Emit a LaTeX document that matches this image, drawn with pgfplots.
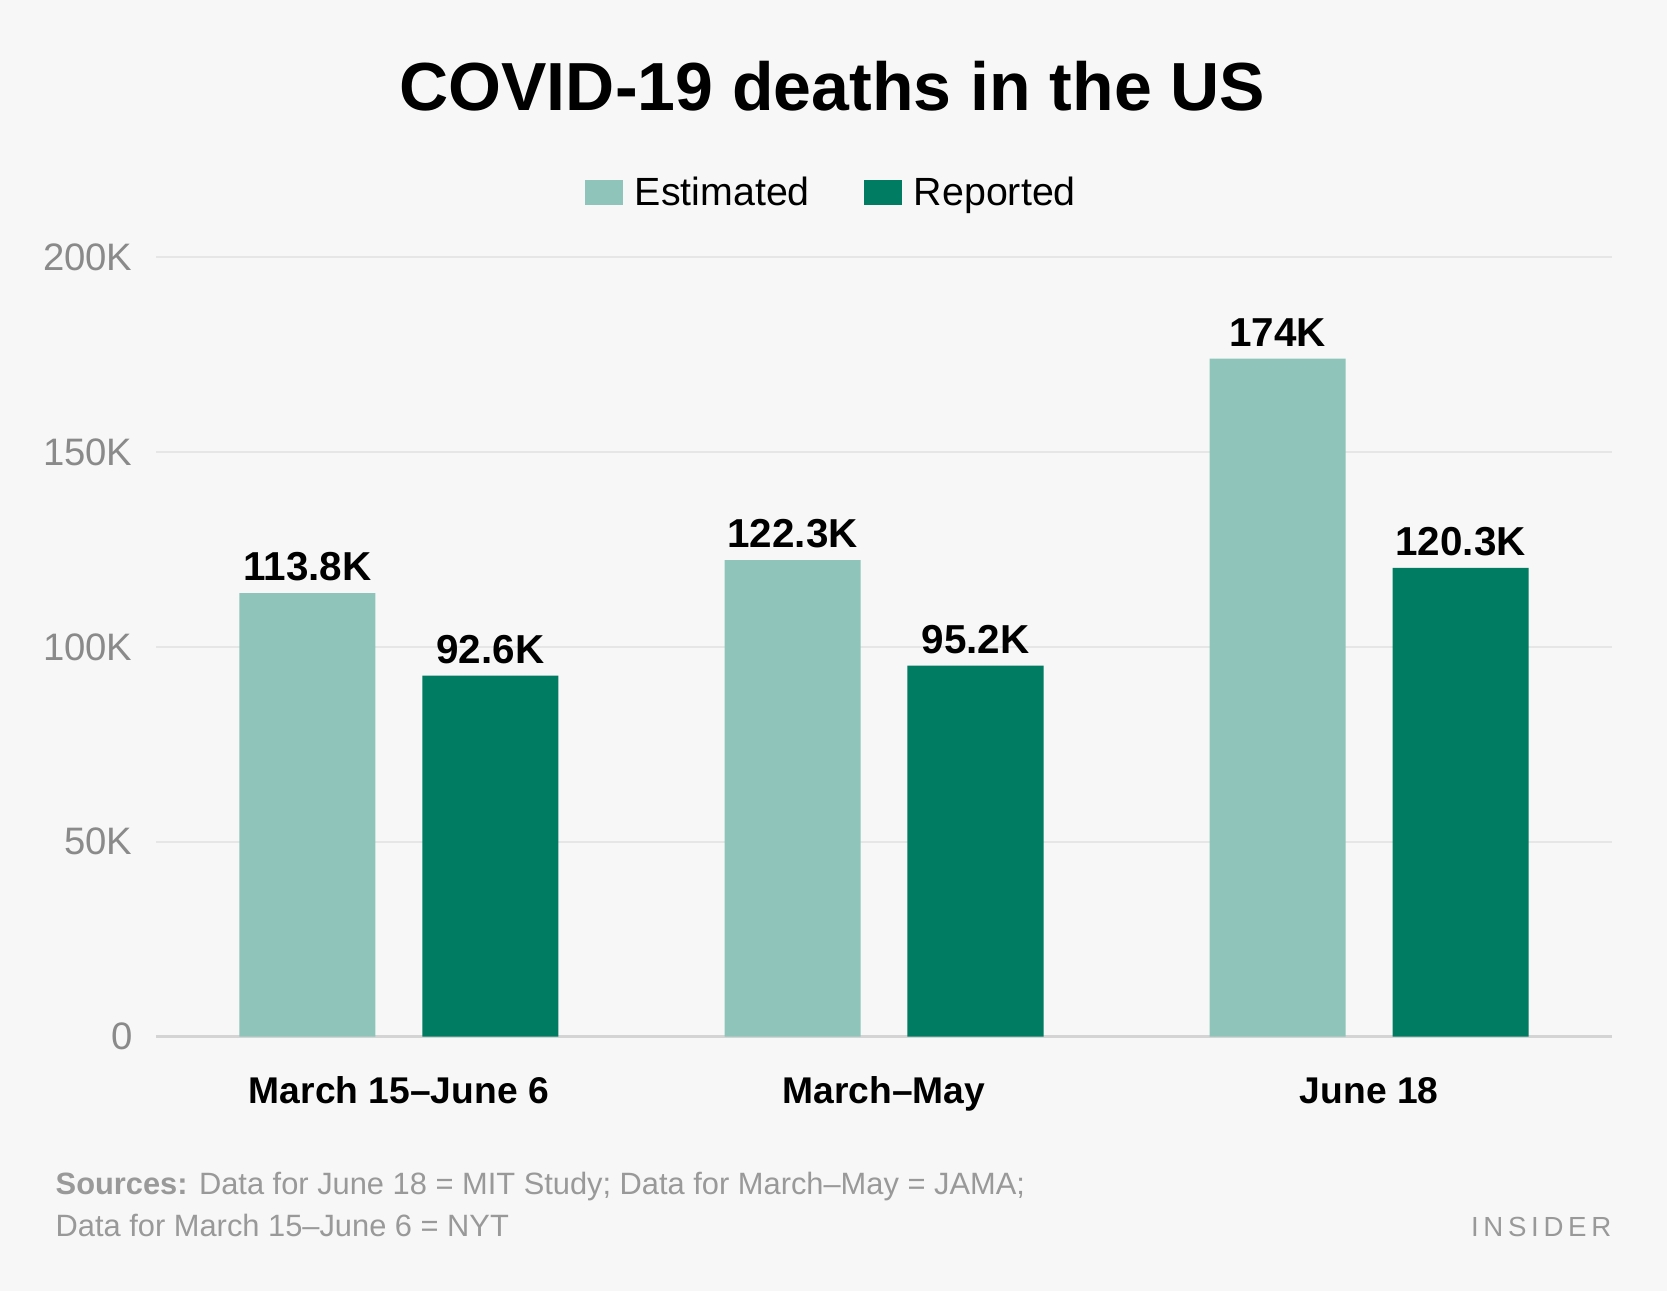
\documentclass[border=0pt]{standalone}
\usepackage{fontspec}
\setmainfont{Liberation Sans}
\usepackage{pgfplots}
\pgfplotsset{compat=1.18}
\definecolor{bgc}{HTML}{F7F7F7}
\definecolor{est}{HTML}{8EC4B9}
\definecolor{rep}{HTML}{007C63}
\definecolor{gridc}{HTML}{E6E6E6}
\definecolor{basec}{HTML}{D4D4D4}
\definecolor{tickc}{HTML}{8A8A8A}
\definecolor{srcc}{HTML}{999999}
\newcommand{\ls}{\hspace{2.2pt}}
\begin{document}
\begin{tikzpicture}
\fill[bgc] (0,0) rectangle (784pt,607pt);
\begin{axis}[
  at={(73.5pt,119.5pt)}, anchor=south west,
  scale only axis, width=684.5pt, height=366.5pt,
  xmin=-0.5, xmax=2.5, ymin=0, ymax=200000,
  ybar, bar width=0.2805,
  axis line style={draw=none},
  major tick length=0pt,
  xtick={0,1,2}, xticklabels={March 15–June 6, March–May, June 18},
  ytick={0,50000,100000,150000,200000}, yticklabels={0,50K,100K,150K,200K},
  scaled y ticks=false,
  ymajorgrids, grid style={draw=gridc, line width=1.1pt},
  extra y ticks={0}, extra y tick labels={},
  extra y tick style={grid style={draw=basec, line width=1.4pt}},
  yticklabel style={font=\fontsize{18pt}{21pt}\selectfont, text=tickc, inner sep=0pt, xshift=-11pt, anchor=east},
  xticklabel style={font=\fontsize{17.5pt}{21pt}\selectfont\bfseries, inner sep=0pt, anchor=base, yshift=-31.5pt},
  point meta=explicit symbolic,
  nodes near coords,
  every node near coord/.append style={font=\fontsize{19pt}{23pt}\selectfont\bfseries, text=black, inner sep=0pt, anchor=south, yshift=5.5pt},
  legend style={at={(0.4646,1.0832)}, anchor=center, draw=none, fill=none,
    font=\fontsize{18.5pt}{22pt}\selectfont,
    /tikz/every odd column/.append style={column sep=3.5pt},
    /tikz/every even column/.append style={column sep=23.5pt}},
  legend columns=2,
  legend image code/.code={\fill[#1] (0pt,-6pt) rectangle (18pt,6pt);},
  clip=false,
]
\addplot[fill=est, draw=none, bar shift=-0.1885] coordinates {(0,113800) [113.8K] (1,122300) [122.3K] (2,174000) [174K]};
\addplot[fill=rep, draw=none, bar shift=0.1885] coordinates {(0,92600) [92.6K] (1,95200) [95.2K] (2,120300) [120.3K]};
\legend{Estimated, Reported}
\end{axis}
\node[anchor=base, inner sep=0pt, font=\fontsize{32pt}{38pt}\selectfont\bfseries] at (391.5pt,555.25pt) {COVID-19 deaths in the US};
\node[anchor=base west, inner sep=0pt, font=\fontsize{14.5pt}{17pt}\selectfont, text=srcc] at (26pt,45pt) {\textbf{Sources:} Data for June 18 = MIT Study; Data for March–May = JAMA;};
\node[anchor=base west, inner sep=0pt, font=\fontsize{14.5pt}{17pt}\selectfont, text=srcc] at (26pt,25.3pt) {Data for March 15–June 6 = NYT};
\node[anchor=base east, inner sep=0pt, font=\fontsize{13pt}{16pt}\selectfont, text=srcc] at (758pt,25.3pt) {I\ls N\ls S\ls I\ls D\ls E\ls R};
\end{tikzpicture}
\end{document}
